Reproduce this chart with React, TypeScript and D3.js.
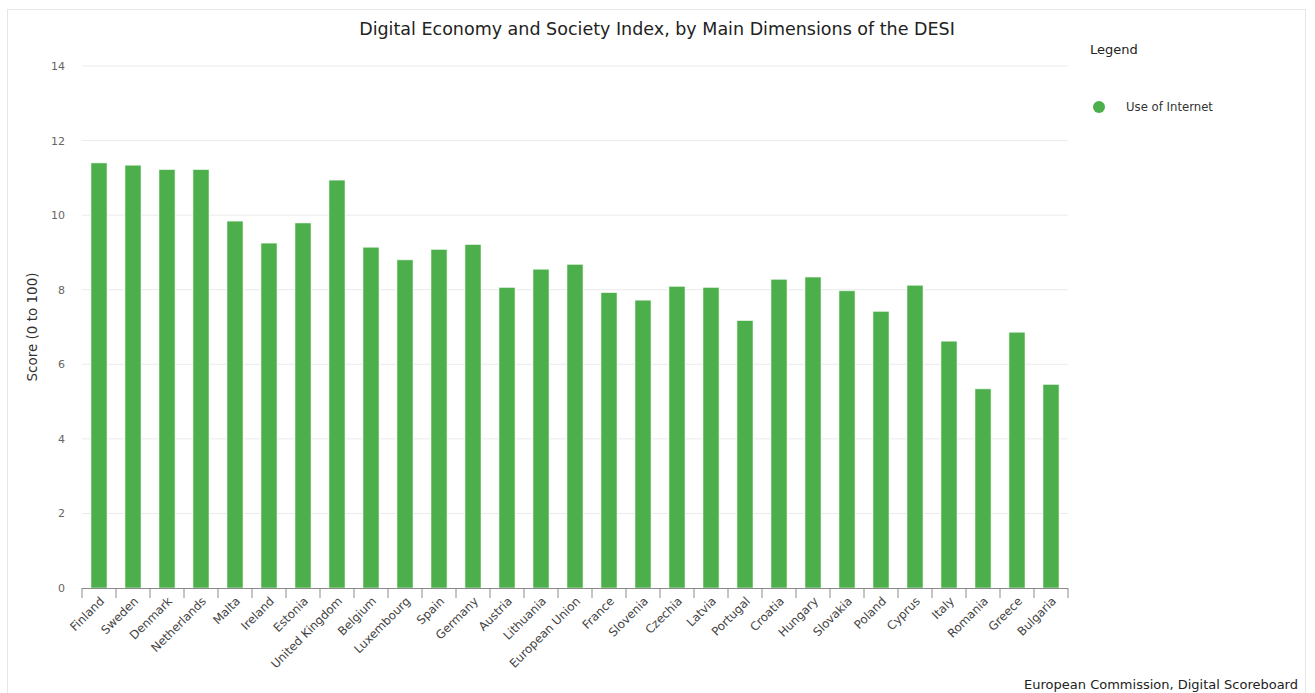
import React from "react";
import * as d3 from "d3";

const categories = ["Finland","Sweden","Denmark","Netherlands","Malta","Ireland","Estonia","United Kingdom","Belgium","Luxembourg","Spain","Germany","Austria","Lithuania","European Union","France","Slovenia","Czechia","Latvia","Portugal","Croatia","Hungary","Slovakia","Poland","Cyprus","Italy","Romania","Greece","Bulgaria"];
const useOfInternet = [11.40,11.34,11.22,11.22,9.84,9.25,9.79,10.94,9.14,8.80,9.08,9.21,8.06,8.55,8.68,7.92,7.72,8.09,8.06,7.17,8.28,8.34,7.97,7.42,8.12,6.62,5.34,6.86,5.46];
const yTicks = [0,2,4,6,8,10,12,14];

const W = 1315, H = 693;
const left = 82, right = 1068, top = 66, bottom = 588;
const font = "'DejaVu Sans', 'Open Sans', sans-serif";

export default function App() {
  const x = d3.scaleBand<string>().domain(categories).range([left, right]).paddingInner(0).paddingOuter(0);
  const y = d3.scaleLinear().domain([0, 14]).range([bottom, top]);
  const bw = 16;
  const boundaries = categories.map((c) => x(c)!).concat([right]);
  return (
    <svg width={W} height={H} style={{ position: "absolute", left: 0, top: 0, background: "#fff" }} fontFamily={font}>
      <rect x={7.5} y={9.5} width={1298} height={700} fill="#fff" stroke="#e6e6e6" />
      <text x={657} y={35} textAnchor="middle" fontSize={17.5} fill="#222">Digital Economy and Society Index, by Main Dimensions of the DESI</text>
      {yTicks.map((t) => (
        <g key={t}>
          {t > 0 && <line x1={left} x2={right} y1={y(t)} y2={y(t)} stroke="#ebebeb" strokeWidth={1} />}
          <text x={65} y={y(t) + 4} textAnchor="end" fontSize={11} fill="#666">{t}</text>
        </g>
      ))}
      <text transform={`translate(37,${(top + bottom) / 2}) rotate(-90)`} textAnchor="middle" fontSize={13.5} fill="#333">Score (0 to 100)</text>
      {categories.map((c, i) => (
        <rect key={c} x={x(c)! + x.bandwidth() / 2 - bw / 2} y={y(useOfInternet[i])} width={bw} height={bottom - y(useOfInternet[i])} fill="#4caf4c" stroke="#e8f5e8" strokeWidth={0.6} />
      ))}
      <line x1={left} x2={right} y1={bottom + 0.5} y2={bottom + 0.5} stroke="#8a8a8a" strokeWidth={1} />
      {boundaries.map((b, i) => (
        <line key={i} x1={b} x2={b} y1={bottom} y2={bottom + 10} stroke="#8a8a8a" strokeWidth={1} />
      ))}
      {categories.map((c) => {
        const cx = x(c)! + x.bandwidth() / 2 + 3;
        return (
          <text key={c} transform={`translate(${cx},${bottom + 11}) rotate(-45)`} textAnchor="end" fontSize={11.8} fill="#444" dy="0.35em">{c}</text>
        );
      })}
      <text x={1090} y={54} fontSize={13} fill="#222">Legend</text>
      <circle cx={1099} cy={107} r={6} fill="#4caf4c" />
      <text x={1126} y={111} fontSize={11.7} fill="#333">Use of Internet</text>
      <text x={1298} y={689} textAnchor="end" fontSize={13} fill="#222">European Commission, Digital Scoreboard</text>
    </svg>
  );
}
